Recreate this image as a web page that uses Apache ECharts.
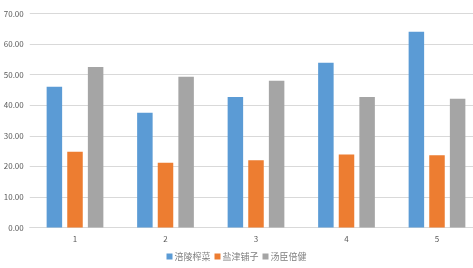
<!DOCTYPE html>
<html><head><meta charset="utf-8">
<script src="https://cdn.jsdelivr.net/npm/echarts@6/dist/echarts.min.js"></script>
<style>html,body{margin:0;padding:0;background:#fff}#c{width:473px;height:268px}</style>
</head><body><div id="c"></div>
<script>
const categories = ['1','2','3','4','5'];
const seriesNames = ['涪陵榨菜','盐津铺子','汤臣倍健'];
const fuling = [46.0, 37.5, 42.7, 53.9, 64.0];
const yanjin = [24.8, 21.2, 22.0, 23.9, 23.6];
const tangchen = [52.5, 49.3, 48.0, 42.7, 42.1];
const colors = ['#5B9BD5','#ED7D31','#A5A5A5'];
const chart = echarts.init(document.getElementById('c'), null, {renderer:'canvas'});
const font = '"Noto Sans CJK SC", "Liberation Sans", sans-serif';
chart.setOption({
  animation:false,
  color: colors,
  grid:{left:29.75, top:13.5, width:452.5, height:214, containLabel:false, outerBoundsMode:'none'},
  legend:{bottom:2, left:'center', itemWidth:6, itemHeight:6, itemGap:4, icon:'rect',
    textStyle:{fontSize:9, color:'#7F7F7F', fontFamily:font, padding:[0,0,0,-3]}, data:seriesNames},
  xAxis:{type:'category', data:categories,
    axisLine:{lineStyle:{color:'#D9D9D9'}}, axisTick:{show:false},
    axisLabel:{fontSize:8, color:'#595959', margin:7, fontFamily:font}},
  yAxis:{type:'value', min:0, max:70, interval:10,
    axisLabel:{fontSize:8, color:'#595959', margin:6, fontFamily:font, formatter:v=>v.toFixed(2)},
    splitLine:{lineStyle:{color:'#D9D9D9'}}, axisLine:{show:false}, axisTick:{show:false}},
  series:[
    {name:seriesNames[0], type:'bar', data:fuling, barWidth:15.5, barGap:'33%'},
    {name:seriesNames[1], type:'bar', data:yanjin, barWidth:15.5, barGap:'33%'},
    {name:seriesNames[2], type:'bar', data:tangchen, barWidth:15.5, barGap:'33%'}
  ]
});
</script></body></html>
